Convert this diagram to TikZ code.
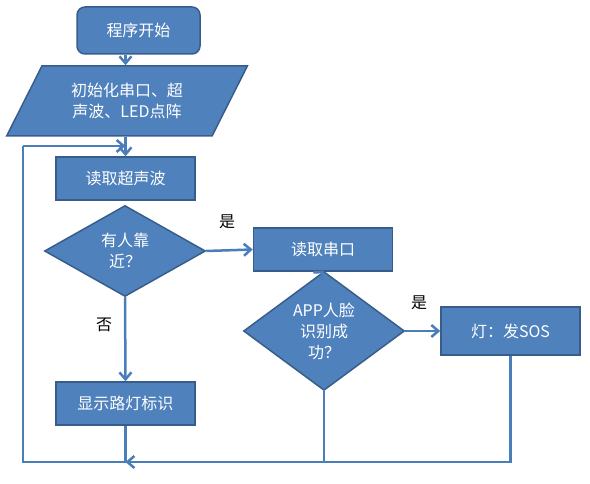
\documentclass[tikz,border=0pt]{standalone}
\usepackage{fontspec}
\setmainfont{Noto Sans CJK SC}
\usetikzlibrary{shapes.geometric,arrows.meta}
\definecolor{boxfill}{HTML}{4F81BD}
\definecolor{boxline}{HTML}{385D8A}
\definecolor{flowline}{HTML}{4A7EBB}

\begin{document}
\begin{tikzpicture}[x=1pt, y=-1pt,
    box/.style={draw=boxline, line width=1.5pt, fill=boxfill, text=white,
        font=\fontsize{16}{21}\selectfont, align=center, inner sep=0pt},
    startbox/.style={box, rounded corners=8pt, minimum width=123pt, minimum height=47pt},
    procbox/.style={box, minimum width=139pt, minimum height=43pt},
    iobox/.style={box, trapezium, trapezium left angle=57, trapezium right angle=123,
        trapezium stretches, minimum width=241pt, minimum height=70pt},
    decision/.style={box, diamond, minimum width=161pt, minimum height=91pt},
    flow/.style={draw=flowline, line width=2.5pt},
    flowarrow/.style={flow, -{Straight Barb[length=7pt, width=12pt]}},
    answer/.style={font=\fontsize{16}{16}\selectfont, text=black},
    ]
    \useasboundingbox (0,0) rectangle (590,484);

    \node[startbox] (start) at (138.5,30.5) {程序开始};
    \node[iobox] (init) at (127,101) {初始化串口、超\\声波、LED点阵};
    \node[procbox] (ultra) at (125.5,178.5) {读取超声波};
    \node[decision] (near) at (125,251) {有人靠\\近？};
    \node[procbox] (serial) at (323,249.5) {读取串口};
    \node[decision] (face) at (324,331) {APP人脸\\识别成\\功？};
    \node[procbox, minimum height=48pt] (sos) at (510.5,331) {灯：发SOS};
    \node[procbox] (show) at (125.5,403.5) {显示路灯标识};

    \node[answer] (yes1) at (227,222) {是};
    \node[answer] (yes2) at (419,303) {是};
    \node[answer] (no1) at (104,325) {否};

    \coordinate (loopbottom) at (23,462);
    \coordinate (looptop) at (23,146);
    \coordinate (join) at (125.5,462);

    \draw[flowarrow] (start.south -| ultra.north) -- (init.north -| ultra.north);
    \draw[flowarrow] (init.south -| ultra.north) -- (ultra.north);
    \draw[flowarrow] (near.east) -- (serial.west);
    \draw[flowarrow] (serial.south) -- (face.north);
    \draw[flowarrow] (face.east) -- (sos.west);
    \draw[flowarrow] (near.south) -- (show.north);
    \draw[flowarrow] (sos.south) -- (sos.south |- join) -- (join);
    \draw[flow] (face.south) -- (face.south |- join);
    \draw[flow] (show.south) -- (join) -- (loopbottom) -- (looptop);
    \draw[flowarrow] (looptop) -- (looptop -| ultra.north);

\end{tikzpicture}
\end{document}
